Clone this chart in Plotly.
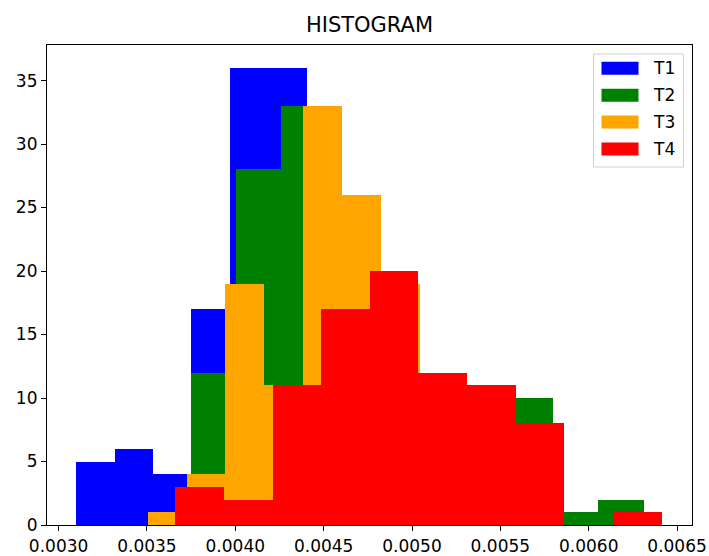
import numpy as np
import plotly.graph_objects as go

# ---- data (counts per bin, 10 bins per series, range of each series) ----
names = ["T1", "T2", "T3", "T4"]
colors = ["blue", "green", "orange", "red"]
t1_range = [0.003100, 0.005273]
t2_range = [0.003749, 0.006311]
t3_range = [0.003504, 0.005703]
t4_range = [0.003660, 0.006413]
t1_counts = [5, 6, 4, 17, 36, 36, 22, 14, 8, 4]
t2_counts = [12, 28, 33, 25, 18, 11, 10, 10, 1, 2]
t3_counts = [1, 4, 19, 11, 33, 26, 19, 10, 6, 3]
t4_counts = [3, 2, 11, 17, 20, 12, 11, 8, 0, 1]
ranges = [t1_range, t2_range, t3_range, t4_range]
counts = [t1_counts, t2_counts, t3_counts, t4_counts]
x_ticks = [0.0030, 0.0035, 0.0040, 0.0045, 0.0050, 0.0055, 0.0060, 0.0065]
y_ticks = [0, 5, 10, 15, 20, 25, 30, 35]

FONT = "DejaVu Sans"
fig = go.Figure()
for name, col, rg, cnt in zip(names, colors, ranges, counts):
    edges = np.linspace(rg[0], rg[1], len(cnt) + 1)
    fig.add_trace(go.Bar(
        x=edges[:-1], y=cnt, width=np.diff(edges), offset=0,
        name=name, marker=dict(color=col, line=dict(width=0)),
        showlegend=False, hoverinfo="x+y+name"))

# manual matplotlib-like legend
W, H, L, T = 645, 480, 47, 45
def px(x): return (x - L) / W
def py(y): return (T + H - y) / H
shapes = [dict(type="rect", xref="paper", yref="paper",
               x0=px(593.5), x1=px(683.5), y0=py(167), y1=py(54),
               line=dict(color="#d0d0d0", width=1), fillcolor="rgba(255,255,255,0.8)")]
annotations = []
for i, (name, col) in enumerate(zip(names, colors)):
    yc = 68.3 + i * 26.9
    shapes.append(dict(type="rect", xref="paper", yref="paper",
                       x0=px(601.5), x1=px(638.5), y0=py(yc + 6.5), y1=py(yc - 6.5),
                       line=dict(width=0), fillcolor=col))
    annotations.append(dict(xref="paper", yref="paper", x=px(651), y=py(yc),
                            text=name, showarrow=False, xanchor="left", yanchor="middle",
                            font=dict(family=FONT, size=17, color="black")))

axis_common = dict(showline=True, linecolor="black", linewidth=1.2, mirror=True,
                   ticks="outside", ticklen=5, tickwidth=1.2, tickcolor="black",
                   showgrid=False, zeroline=False, automargin=False,
                   tickfont=dict(family=FONT, size=17, color="black"))
fig.update_layout(
    width=709, height=556,
    margin=dict(l=47, r=17, t=45, b=31),
    barmode="overlay", bargap=0,
    plot_bgcolor="white", paper_bgcolor="white",
    title=dict(text="HISTOGRAM", x=0.5, xref="paper", xanchor="center",
               y=1 - 25 / 556, yref="container", yanchor="middle",
               font=dict(family=FONT, size=21, color="black")),
    xaxis=dict(range=[0.0029344, 0.0065846], tickvals=x_ticks,
               ticktext=[f"{v:.4f}" for v in x_ticks], **axis_common),
    yaxis=dict(range=[0, 37.8], tickvals=y_ticks, **axis_common),
    shapes=shapes, annotations=annotations,
)
fig.write_html("out.html")
